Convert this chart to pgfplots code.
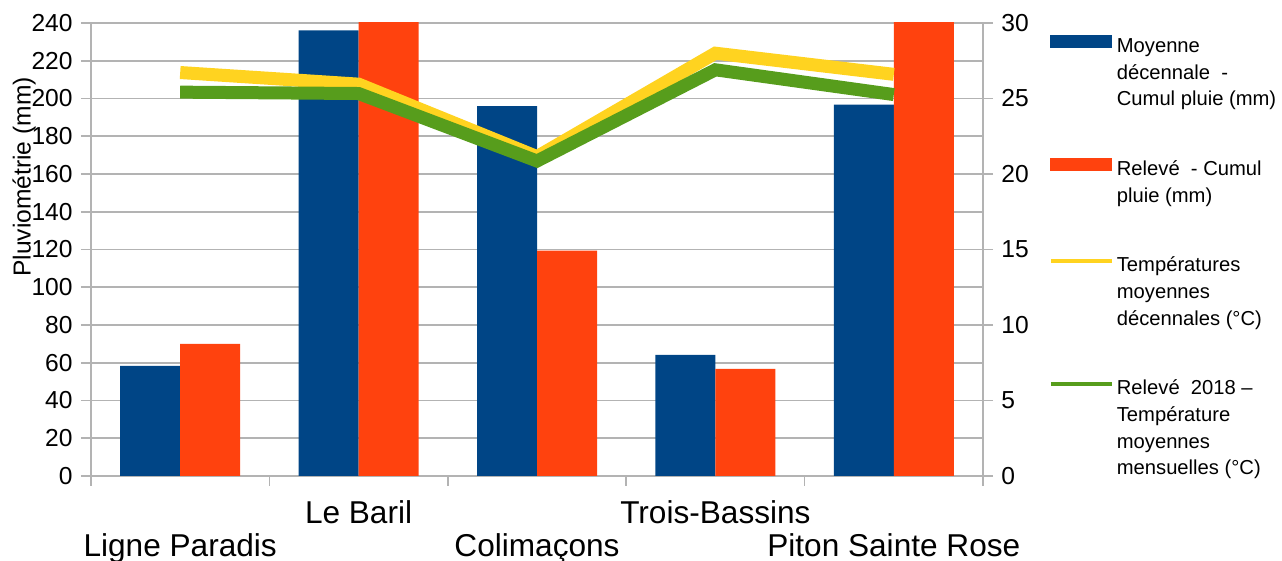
\documentclass[border=0pt]{standalone}
\usepackage{pgfplots}
\pgfplotsset{compat=1.18}
\usepackage{fontspec}
\setmainfont{Liberation Sans}
\definecolor{cblue}{HTML}{004586}
\definecolor{cred}{HTML}{FF420E}
\definecolor{cyel}{HTML}{FFD320}
\definecolor{cgreen}{HTML}{579D1C}
\definecolor{cgrid}{HTML}{B3B3B3}
\newcommand{\legtxt}[1]{\parbox[t]{90pt}{\raggedright\fontsize{10.1}{13.35}\selectfont #1}}
\begin{document}
\begin{tikzpicture}
\useasboundingbox (-45.5pt,-42.5pt) rectangle (595.5pt,238pt);
\begin{axis}[
  scale only axis, width=446pt, height=226.5pt,
  xmin=-0.5, xmax=4.5, ymin=0, ymax=240,
  axis x line*=bottom, axis y line*=left,
  axis line style={cgrid, line width=0.8pt},
  tick align=outside, major tick length=5pt,
  tick style={cgrid, line width=0.8pt},
  ytick={0,20,...,240},
  ymajorgrids, grid style={cgrid, line width=0.8pt},
  xtick={-0.5,0.5,...,4.5}, xticklabels={},
  extra x ticks={0,1,2,3,4},
  extra x tick labels={{\strut\\\strut Ligne Paradis},{\strut Le Baril},{\strut\\\strut Colimaçons},{\strut Trois-Bassins},{\strut\\\strut Piton Sainte Rose}},
  extra x tick style={major tick length=0pt, grid=none,
    xticklabel style={align=center, font=\fontsize{15.8}{16.5}\selectfont, inner sep=0pt, yshift=-12pt}},
  /pgf/number format/assume math mode=true,
  yticklabel style={font=\fontsize{12.3}{14}\selectfont, inner sep=0pt, xshift=-4pt},
  ylabel={Pluviométrie (mm)},
  ylabel style={at={(axis description cs:-0.075,0.439)}, anchor=west, font=\fontsize{12.3}{14}\selectfont, inner sep=0pt},
  clip=true,
]
\addplot[ybar, bar width=30pt, bar shift=-15pt, fill=cblue, draw=none] coordinates {(0,58.4) (1,236.1) (2,195.9) (3,64.2) (4,196.8)};
\addplot[ybar, bar width=30pt, bar shift=15pt, fill=cred, draw=none] coordinates {(0,70.0) (1,260) (2,119.4) (3,56.8) (4,260)};
\end{axis}
\begin{axis}[
  scale only axis, width=446pt, height=226.5pt,
  xmin=-0.5, xmax=4.5, ymin=0, ymax=30,
  axis x line=none, axis y line*=right,
  axis line style={cgrid, line width=0.8pt},
  tick align=outside, major tick length=5pt,
  tick style={cgrid, line width=0.8pt},
  ytick={0,5,...,30},
  /pgf/number format/assume math mode=true,
  yticklabel style={font=\fontsize{12.3}{14}\selectfont, inner sep=0pt, xshift=4pt},
  legend style={draw=none, fill=none, at={(axis description cs:1.0734,0.9773)}, anchor=north west,
    row sep=21.45pt, column sep=1.5pt, inner sep=0pt, cells={anchor=base west},
    nodes={inner sep=0pt, text depth=, text height=}},
]
\addlegendimage{legend image code/.code={\fill[cblue] (0pt,2.5pt) rectangle (30.5pt,8.5pt);}}
\addlegendentry{\legtxt{\strut Moyenne\\\strut décennale~~-\\\strut Cumul pluie (mm)}}
\addlegendimage{legend image code/.code={\fill[cred] (0pt,2.5pt) rectangle (30.5pt,8.5pt);}}
\addlegendentry{\legtxt{\strut Relevé~~- Cumul\\\strut pluie (mm)}}
\addplot[cyel, line width=6.5pt, legend image code/.code={\draw[cyel, line width=2pt] (0pt,5.5pt) -- (30.5pt,5.5pt);}] coordinates {(0,26.72) (1,25.95) (2,21.15) (3,28.0) (4,26.6)};
\addlegendentry{\legtxt{\strut Températures\\\strut moyennes\\\strut décennales (°C)}}
\addplot[cgreen, line width=6.5pt, legend image code/.code={\draw[cgreen, line width=2pt] (0pt,5.5pt) -- (30.5pt,5.5pt);}] coordinates {(0,25.42) (1,25.33) (2,20.86) (3,26.9) (4,25.26)};
\addlegendentry{\legtxt{\strut Relevé~~2018 –\\\strut Température\\\strut moyennes\\\strut mensuelles (°C)}}
\end{axis}
\end{tikzpicture}
\end{document}
